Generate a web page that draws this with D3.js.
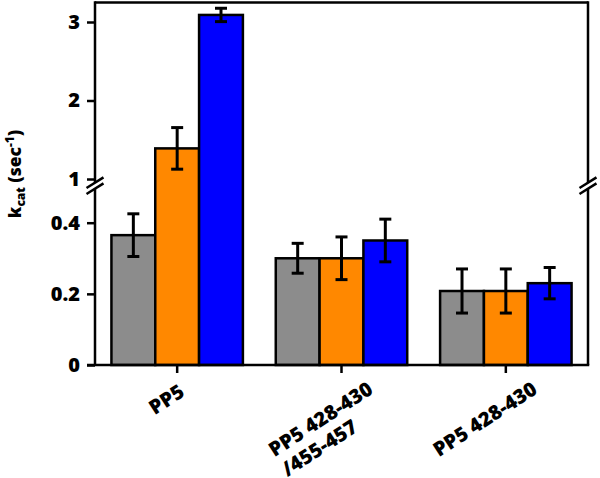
<!DOCTYPE html>
<html>
<head>
<meta charset="utf-8">
<script src="https://cdn.jsdelivr.net/npm/d3@7"></script>
<style>
  html, body { margin: 0; padding: 0; background: #fff; }
  svg { display: block; }
  text { font-family: "Open Sans", "DejaVu Sans", sans-serif; font-weight: 800; fill: #000; }
</style>
</head>
<body>
<svg id="chart" width="600" height="478"></svg>
<script>
// ---------- data ----------
const categories = [["PP5"], ["PP5 428-430", "/455-457"], ["PP5 428-430"]];
const seriesNames = ["s1", "s2", "s3"];
const grayValues   = [0.365, 0.300, 0.208];
const orangeValues = [1.39, 0.300, 0.208];
const blueValues   = [3.09, 0.350, 0.230];
const grayErrors   = [0.060, 0.042, 0.062];
const orangeErrors = [0.265, 0.060, 0.062];
const blueErrors   = [0.085, 0.060, 0.044];
const lowerTicks = [0, 0.2, 0.4];
const upperTicks = [1, 2, 3];
const colors = ["#8c8c8c", "#ff8800", "#0000ff"];

// ---------- layout ----------
const W = 600, H = 478;
const mLeft = 95, mRight = 588, mTop = 2.5, mBottom = 365;
const breakY = 185.7;

const svg = d3.select("#chart");
svg.append("rect").attr("width", W).attr("height", H).attr("fill", "#fff");

const x0 = d3.scaleBand().domain(d3.range(categories.length))
  .range([mLeft, mRight]).paddingInner(0.2).paddingOuter(0.1);
const x1 = d3.scaleBand().domain(d3.range(seriesNames.length))
  .range([0, x0.bandwidth()]).padding(0);

const yLower = d3.scaleLinear().domain([0, 0.4]).range([mBottom, 222.7]);
const yUpper = d3.scaleLinear().domain([1, 3]).range([179, 22]);
const y = v => (v < 0.7 ? yLower(v) : yUpper(v));

const values = [grayValues, orangeValues, blueValues];
const errors = [grayErrors, orangeErrors, blueErrors];

const rows = [];
categories.forEach((c, i) => {
  seriesNames.forEach((s, j) => {
    rows.push({ g: i, s: j, v: values[j][i], e: errors[j][i] });
  });
});

// ---------- bars ----------
const gBars = svg.append("g");
gBars.selectAll("rect").data(rows).join("rect")
  .attr("x", d => x0(d.g) + x1(d.s))
  .attr("y", d => y(d.v))
  .attr("width", x1.bandwidth())
  .attr("height", d => mBottom - y(d.v))
  .attr("fill", d => colors[d.s])
  .attr("stroke", "#000")
  .attr("stroke-width", 2.5);

// ---------- error bars ----------
const gErr = svg.append("g").attr("stroke", "#000").attr("stroke-width", 3);
const cx = d => x0(d.g) + x1(d.s) + x1.bandwidth() / 2;
gErr.selectAll("line.v").data(rows).join("line").attr("class", "v")
  .attr("x1", cx).attr("x2", cx)
  .attr("y1", d => y(d.v - d.e)).attr("y2", d => y(d.v + d.e));
gErr.selectAll("line.t").data(rows).join("line").attr("class", "t")
  .attr("x1", d => cx(d) - 6).attr("x2", d => cx(d) + 6)
  .attr("y1", d => y(d.v + d.e)).attr("y2", d => y(d.v + d.e));
gErr.selectAll("line.b").data(rows).join("line").attr("class", "b")
  .attr("x1", d => cx(d) - 6).attr("x2", d => cx(d) + 6)
  .attr("y1", d => y(d.v - d.e)).attr("y2", d => y(d.v - d.e));

// ---------- frame / axes ----------
const frame = svg.append("g").attr("stroke", "#000").attr("stroke-width", 2.5).attr("fill", "none");
frame.append("line").attr("x1", mLeft).attr("x2", mRight).attr("y1", mTop).attr("y2", mTop);
frame.append("line").attr("x1", mLeft).attr("x2", mLeft).attr("y1", mTop - 1.25).attr("y2", mBottom);
frame.append("line").attr("x1", mRight).attr("x2", mRight).attr("y1", mTop - 1.25).attr("y2", mBottom);
frame.append("line").attr("x1", mLeft - 8).attr("x2", mRight + 1.25).attr("y1", mBottom).attr("y2", mBottom);

function styleAxis(g) {
  g.select(".domain").remove();
  g.selectAll(".tick line").attr("stroke", "#000").attr("stroke-width", 2.5);
  g.selectAll(".tick text").attr("font-size", 20).attr("font-family", "'Open Sans', sans-serif")
    .attr("font-weight", 800).attr("fill", "#000");
}

svg.append("g").attr("transform", `translate(${mLeft},0)`)
  .call(d3.axisLeft(yLower).tickValues(lowerTicks).tickSize(8).tickPadding(7).tickFormat(d => String(d)))
  .call(styleAxis);
svg.append("g").attr("transform", `translate(${mLeft},0)`)
  .call(d3.axisLeft(yUpper).tickValues(upperTicks).tickSize(8).tickPadding(7).tickFormat(d => String(d)))
  .call(styleAxis);

svg.append("g").attr("transform", `translate(0,${mBottom})`)
  .call(d3.axisBottom(x0).tickSize(8).tickFormat(""))
  .call(g => { g.select(".domain").remove(); g.selectAll(".tick line").attr("stroke", "#000").attr("stroke-width", 2.5); });

// ---------- axis breaks ----------
function drawBreak(xc) {
  const g = svg.append("g");
  g.append("rect").attr("x", xc - 3).attr("y", breakY - 3).attr("width", 6).attr("height", 6).attr("fill", "#fff");
  [-3, 3].forEach(off => {
    g.append("line")
      .attr("x1", xc - 8.5).attr("y1", breakY + off + 5.3)
      .attr("x2", xc + 8.5).attr("y2", breakY + off - 5.3)
      .attr("stroke", "#000").attr("stroke-width", 2.5);
  });
}
drawBreak(mLeft);
drawBreak(mRight);

// ---------- x labels ----------
const angle = 33;
const rad = angle * Math.PI / 180;
categories.forEach((lines, i) => {
  const t = svg.append("text").attr("font-size", 20).attr("text-anchor", "start");
  lines.forEach((ln, k) => {
    t.append("tspan").attr("x", 0).attr("dy", k === 0 ? 0 : 23.5).text(ln);
  });
  const len = t.select("tspan").node().getComputedTextLength();
  const tick = x0(i) + x0.bandwidth() / 2;
  const cxl = tick - 0.125 * len - 6;
  const cyl = 390.5 + 0.24 * len;
  const sx = cxl - (len / 2) * Math.cos(rad) + 7 * Math.sin(rad);
  const sy = cyl + (len / 2) * Math.sin(rad) + 7 * Math.cos(rad);
  t.attr("transform", `translate(${sx},${sy}) rotate(${-angle})`);
});

// ---------- y label ----------
const yl = svg.append("text").attr("transform", "translate(21,174) rotate(-90)")
  .attr("text-anchor", "middle").attr("font-size", 17.5);
yl.append("tspan").text("k");
yl.append("tspan").attr("font-size", 12).attr("dy", 4).text("cat");
yl.append("tspan").attr("dy", -4).text(" (sec");
yl.append("tspan").attr("font-size", 12).attr("dy", -7).text("-1");
yl.append("tspan").attr("dy", 7).text(")");
</script>
</body>
</html>
